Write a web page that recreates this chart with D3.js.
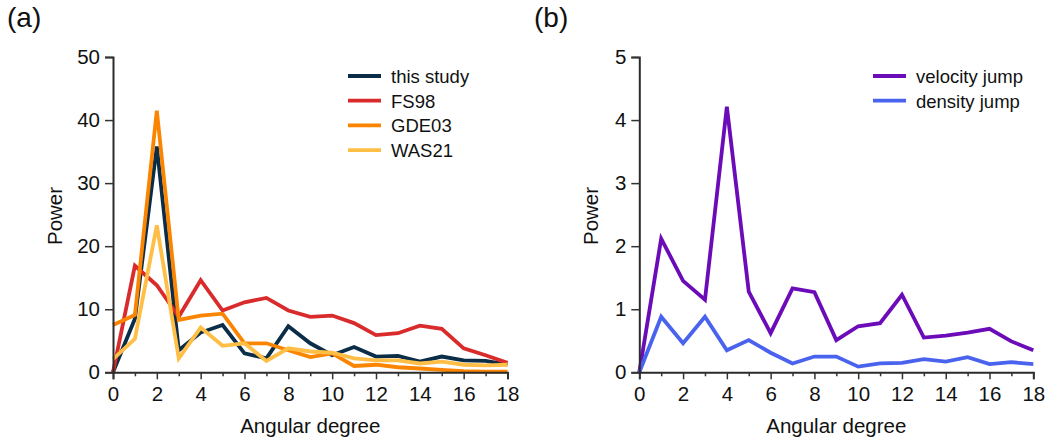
<!DOCTYPE html>
<html>
<head>
<meta charset="utf-8">
<script src="https://cdn.jsdelivr.net/npm/d3@7"></script>
<style>
  html, body { margin: 0; padding: 0; background: #fff; }
  svg { display: block; font-family: "Liberation Sans", Arial, sans-serif; }
</style>
</head>
<body>
<svg id="chart" width="1049" height="442"></svg>
<script>
// Angular degrees 0..18
const degrees = d3.range(0, 19);

// Panel (a): power spectra of the models
const thisStudy = [0, 8.5, 35.8, 3.5, 6.3, 7.5, 3.0, 2.2, 7.3, 4.6, 2.7, 4.0, 2.5, 2.6, 1.7, 2.5, 1.9, 1.8, 1.2];
const fs98      = [0, 16.9, 13.8, 8.8, 14.6, 9.8, 11.1, 11.8, 9.8, 8.8, 9.0, 7.8, 5.9, 6.2, 7.4, 6.9, 3.8, 2.7, 1.5];
const gde03     = [7.5, 9.1, 41.5, 8.3, 9.0, 9.3, 4.6, 4.6, 3.5, 2.4, 3.0, 1.0, 1.2, 0.8, 0.6, 0.4, 0.2, 0.1, 0.1];
const was21     = [2.1, 5.3, 23.3, 2.2, 7.1, 4.2, 4.6, 1.8, 3.8, 3.3, 3.1, 2.2, 1.9, 1.9, 1.4, 1.7, 1.2, 1.1, 1.2];

// Panel (b): power of the velocity and density jumps
const velocityJump = [0, 2.12, 1.45, 1.15, 4.21, 1.28, 0.62, 1.33, 1.27, 0.51, 0.73, 0.78, 1.23, 0.55, 0.58, 0.63, 0.69, 0.49, 0.35];
const densityJump  = [0, 0.88, 0.46, 0.88, 0.35, 0.51, 0.31, 0.14, 0.25, 0.25, 0.09, 0.14, 0.15, 0.21, 0.17, 0.24, 0.13, 0.16, 0.13];

const xTicks = [0, 2, 4, 6, 8, 10, 12, 14, 16, 18];
const yTicksA = [0, 10, 20, 30, 40, 50];
const yTicksB = [0, 1, 2, 3, 4, 5];

const seriesA = [
  { name: "this study", values: thisStudy, color: "#0b2d47" },
  { name: "FS98",       values: fs98,      color: "#d92b2b" },
  { name: "GDE03",      values: gde03,     color: "#fb8500" },
  { name: "WAS21",      values: was21,     color: "#ffbf47" }
];
const seriesB = [
  { name: "velocity jump", values: velocityJump, color: "#6c0bb8" },
  { name: "density jump",  values: densityJump,  color: "#4a63ef" }
];

const svg = d3.select("#chart");
const FONT = "'Liberation Sans', Arial, sans-serif";

function panel(opts) {
  const { left, right, top, bottom, yMax, yTicks, series, letter, letterX, legendX, labelX } = opts;
  const g = svg.append("g");
  const x = d3.scaleLinear().domain([0, 18]).range([left, right]);
  const y = d3.scaleLinear().domain([0, yMax]).range([bottom, top]);

  // data lines
  const line = d3.line().x((d, i) => x(degrees[i])).y(d => y(d));
  series.forEach(s => {
    g.append("path")
      .attr("d", line(s.values))
      .attr("fill", "none")
      .attr("stroke", s.color)
      .attr("stroke-width", 3.8)
      .attr("stroke-linejoin", "miter")
      .attr("stroke-miterlimit", 4);
  });

  // x axis: major ticks on even degrees, minor on odd
  g.append("g").attr("transform", `translate(0,${bottom})`)
    .call(d3.axisBottom(x).tickValues(xTicks).tickSize(7).tickPadding(7).tickFormat(d3.format("d")));
  g.append("g").attr("transform", `translate(0,${bottom})`)
    .call(d3.axisBottom(x).tickValues(degrees.filter(d => d % 2 === 1)).tickSize(4).tickFormat(""))
    .call(a => a.select(".domain").remove());

  g.append("g").attr("transform", `translate(${left},0)`)
    .call(d3.axisLeft(y).tickValues(yTicks).tickSize(8).tickPadding(5).tickFormat(d3.format("d")));

  g.selectAll(".domain").attr("stroke", "#2b2b2b").attr("stroke-width", 2);
  g.selectAll(".tick line").attr("stroke", "#333").attr("stroke-width", 1.5);
  g.selectAll(".tick text").attr("font-size", 20.5).attr("fill", "#111")
    .attr("font-family", FONT);

  // axis titles
  g.append("text")
    .attr("x", (left + right) / 2).attr("y", 433)
    .attr("text-anchor", "middle").attr("font-size", 20.5).attr("fill", "#111")
    .text("Angular degree");
  g.append("text")
    .attr("transform", `translate(${labelX},216) rotate(-90)`)
    .attr("text-anchor", "middle").attr("font-size", 20.5).attr("fill", "#111")
    .text("Power");

  // panel letter
  g.append("text")
    .attr("x", letterX).attr("y", 27)
    .attr("font-size", 28).attr("fill", "#111")
    .text(letter);

  // legend
  const leg = g.append("g").attr("transform", `translate(${legendX},76)`);
  series.forEach((s, i) => {
    const row = leg.append("g").attr("transform", `translate(0,${i * 24.7})`);
    row.append("line").attr("x1", 0).attr("x2", 33).attr("y1", 0).attr("y2", 0)
      .attr("stroke", s.color).attr("stroke-width", 3.8);
    row.append("text").attr("x", 43).attr("y", 7)
      .attr("font-size", 18.5).attr("fill", "#111").text(s.name);
  });
}

panel({ left: 113, right: 507.5, top: 57, bottom: 372.3, yMax: 50, yTicks: yTicksA,
        series: seriesA, letter: "(a)", letterX: 7, legendX: 348, labelX: 61.5 });
panel({ left: 639.3, right: 1033.3, top: 57, bottom: 372.3, yMax: 5, yTicks: yTicksB,
        series: seriesB, letter: "(b)", letterX: 534, legendX: 873, labelX: 598 });
</script>
</body>
</html>
